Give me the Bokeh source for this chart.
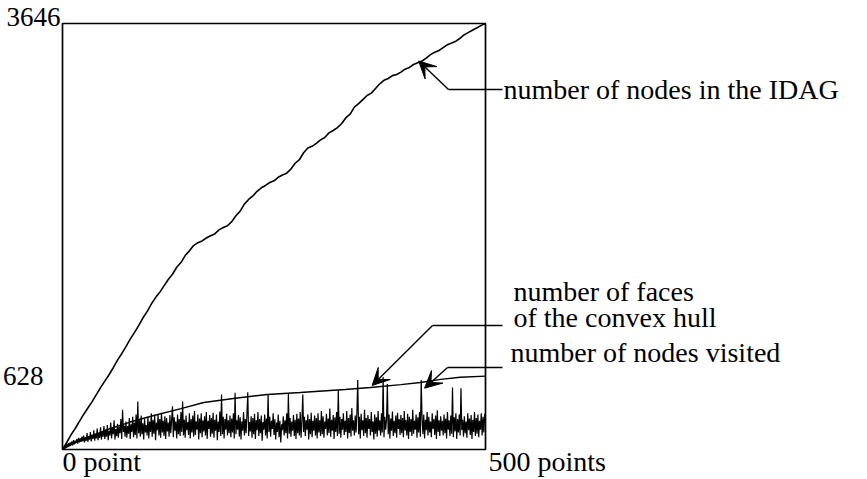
from bokeh.plotting import figure
from bokeh.models import Range1d, Label, Arrow, VeeHead
from bokeh.embed import file_html
from bokeh.resources import INLINE

# ---------------- data ----------------
idag_x = list(range(0, 501, 5))
idag_y = [0, 60, 125, 180, 240, 300, 355, 410, 470, 530,
          585, 640, 700, 765, 820, 880, 945, 1000, 1060, 1125,
          1180, 1245, 1300, 1345, 1400, 1455, 1500, 1560, 1600, 1660,
          1700, 1745, 1770, 1785, 1810, 1830, 1845, 1880, 1900, 1915,
          1950, 2000, 2040, 2100, 2140, 2170, 2210, 2240, 2260, 2285,
          2300, 2330, 2350, 2365, 2400, 2450, 2480, 2540, 2580, 2595,
          2620, 2650, 2670, 2710, 2730, 2755, 2790, 2840, 2870, 2930,
          2960, 2995, 3030, 3050, 3090, 3130, 3160, 3175, 3200, 3210,
          3230, 3255, 3270, 3295, 3310, 3325, 3350, 3380, 3400, 3415,
          3440, 3465, 3480, 3495, 3520, 3550, 3570, 3590, 3610, 3630,
          3646]

hull_x = [0, 10, 20, 36, 57, 80, 108, 140, 167, 202, 242, 281, 334, 364, 400, 423, 447, 470, 500]
hull_y = [0, 40, 75, 120, 180, 235, 291, 350, 402, 437, 471, 488, 514, 531, 555, 573, 600, 618, 628]

visited_x = list(range(0, 501))
visited_y = [
    0, 20, 10, 35, 15, 45, 25, 55, 30, 60, 40, 70, 35, 80, 45, 75, 55, 90, 50, 100, 60, 95, 65, 110, 70,
    120, 60, 105, 75, 140, 65, 115, 85, 150, 70, 125, 90, 165, 75, 135, 95, 180, 80, 140, 100, 190, 85, 150, 110, 200,
    90, 170, 110, 210, 80, 160, 120, 230, 95, 185, 130, 250, 85, 175, 115, 220, 100, 195, 140, 260, 90, 340, 150, 205, 110,
    240, 100, 200, 135, 270, 90, 215, 150, 280, 105, 230, 125, 300, 95, 410, 140, 250, 110, 290, 130, 225, 85, 260, 145, 210,
    120, 280, 95, 240, 150, 310, 110, 255, 135, 290, 80, 230, 165, 300, 120, 260, 100, 315, 145, 245, 115, 285, 90, 270, 155,
    230, 110, 295, 140, 250, 370, 105, 275, 160, 240, 95, 300, 130, 260, 115, 320, 150, 410, 120, 255, 100, 290, 165, 235, 125,
    310, 95, 260, 145, 290, 110, 330, 125, 240, 170, 300, 85, 265, 140, 310, 105, 250, 155, 285, 120, 320, 90, 245, 175, 295,
    110, 270, 135, 315, 100, 255, 160, 300, 80, 240, 150, 325, 115, 470, 130, 280, 95, 260, 170, 305, 120, 250, 140, 290, 105,
    265, 145, 310, 95, 485, 130, 250, 170, 295, 110, 275, 85, 240, 160, 320, 120, 260, 140, 300, 490, 115, 235, 155, 285, 100,
    270, 130, 305, 90, 250, 165, 320, 115, 260, 140, 290, 75, 235, 170, 300, 120, 265, 95, 475, 150, 280, 110, 245, 175, 310,
    125, 260, 85, 230, 150, 300, 105, 245, 60, 215, 165, 285, 120, 250, 140, 310, 95, 480, 135, 270, 110, 240, 160, 295, 115,
    255, 90, 305, 140, 265, 120, 320, 100, 240, 470, 150, 280, 115, 250, 170, 300, 85, 260, 130, 315, 105, 245, 160, 290, 120,
    270, 95, 310, 145, 250, 115, 330, 130, 285, 100, 240, 175, 305, 120, 265, 140, 350, 110, 255, 160, 295, 90, 275, 150, 320,
    115, 510, 135, 280, 100, 260, 170, 310, 125, 245, 150, 330, 95, 270, 140, 300, 110, 355, 160, 250, 120, 290, 145, 320, 595,
    130, 280, 95, 305, 165, 250, 115, 340, 140, 270, 100, 295, 175, 260, 120, 320, 150, 240, 85, 300, 135, 275, 110, 330, 160,
    250, 120, 310, 145, 620, 105, 280, 170, 255, 560, 130, 300, 95, 265, 160, 325, 115, 245, 140, 290, 100, 315, 175, 260, 125,
    295, 140, 270, 105, 330, 160, 250, 120, 305, 90, 280, 150, 260, 115, 340, 135, 245, 170, 300, 100, 275, 145, 320, 110, 595,
    265, 130, 300, 95, 255, 165, 320, 120, 280, 145, 240, 105, 310, 175, 260, 125, 290, 90, 335, 150, 250, 115, 285, 160, 245,
    120, 300, 140, 265, 95, 320, 170, 250, 115, 290, 135, 530, 105, 275, 155, 310, 90, 260, 145, 300, 120, 525, 165, 255, 110,
    285, 140, 240, 100, 310, 165, 265, 125, 295, 90, 255, 150, 320, 115, 270, 135, 300, 105, 245, 170, 310, 120, 280, 145, 305,
    230,
]

x_limits = [0, 500]
y_limits = [0, 3646]
x_tick_labels = ["0 point", "500 points"]
y_tick_labels = ["3646", "628"]
y_mid_tick = 628
series_labels = ["number of nodes in the IDAG", "number of faces", "of the convex hull", "number of nodes visited"]

FONT = "Liberation Serif"
FS_NUM = "27px"
FS_TXT = "28px"

# ---------------- layout: plot box from px 62..485 (x), 23..449 (y) ----------------
W, H = 867, 479
BOX_L, BOX_R, BOX_T, BOX_B = 62, 485, 23, 449
sx = (x_limits[1] - x_limits[0]) / (BOX_R - BOX_L)
sy = (y_limits[1] - y_limits[0]) / (BOX_B - BOX_T)
x_range = Range1d(x_limits[0] - BOX_L * sx, x_limits[1] + (W - BOX_R) * sx)
y_range = Range1d(y_limits[0] - (H - BOX_B) * sy, y_limits[1] + BOX_T * sy)

def px2x(px):
    return x_limits[0] + (px - BOX_L) * sx

def py2y(py):
    return y_limits[0] + (BOX_B - py) * sy

p = figure(frame_width=W, frame_height=H, min_border=0,
           x_range=x_range, y_range=y_range,
           x_axis_type=None, y_axis_type=None,
           output_backend="svg", toolbar_location=None)
p.outline_line_color = None
p.background_fill_color = "white"
p.border_fill_color = "white"

# plot box
p.quad(left=[x_limits[0]], right=[x_limits[1]], bottom=[y_limits[0]], top=[y_limits[1]],
       fill_color=None, line_color="black", line_width=1.7)

p.line(idag_x, idag_y, line_color="black", line_width=1.6)
p.line(visited_x, visited_y, line_color="black", line_width=1.2)
p.line(hull_x, hull_y, line_color="black", line_width=1.4)

def lab(x, y, text, size, align="left"):
    p.add_layout(Label(x=x, y=y, text=text, text_font=FONT, text_font_size=size,
                       text_color="black", text_align=align, text_baseline="middle"))

# axis-like labels (vertical centres given in page pixels)
lab(px2x(60), py2y(16), y_tick_labels[0], FS_NUM, align="right")
lab(px2x(43), y_mid_tick, y_tick_labels[1], FS_NUM, align="right")
lab(px2x(62), py2y(461), x_tick_labels[0], FS_TXT)
lab(px2x(488), py2y(461), x_tick_labels[1], FS_TXT)

# series labels
lab(px2x(503), py2y(89), series_labels[0], FS_TXT)
lab(px2x(513), py2y(291), series_labels[1], FS_TXT)
lab(px2x(513), py2y(317), series_labels[2], FS_TXT)
lab(px2x(510), py2y(352), series_labels[3], FS_TXT)

def leader(x0, y0, xc, yc, xt, yt):
    p.add_layout(Arrow(end=None, x_start=x0, y_start=y0, x_end=xc, y_end=yc,
                       line_color="black", line_width=1.4))
    p.add_layout(Arrow(end=VeeHead(size=17, fill_color="black", line_color="black", line_width=1),
                       x_start=xc, y_start=yc, x_end=xt, y_end=yt,
                       line_color="black", line_width=1.4))

leader(px2x(502), py2y(89), px2x(448), py2y(89), 421, 3325)
leader(px2x(502), py2y(325), px2x(432), py2y(325), 366, 548)
leader(px2x(502), py2y(367), px2x(447), py2y(367), 428, 525)

open("out.html", "w").write(file_html(p, INLINE))
